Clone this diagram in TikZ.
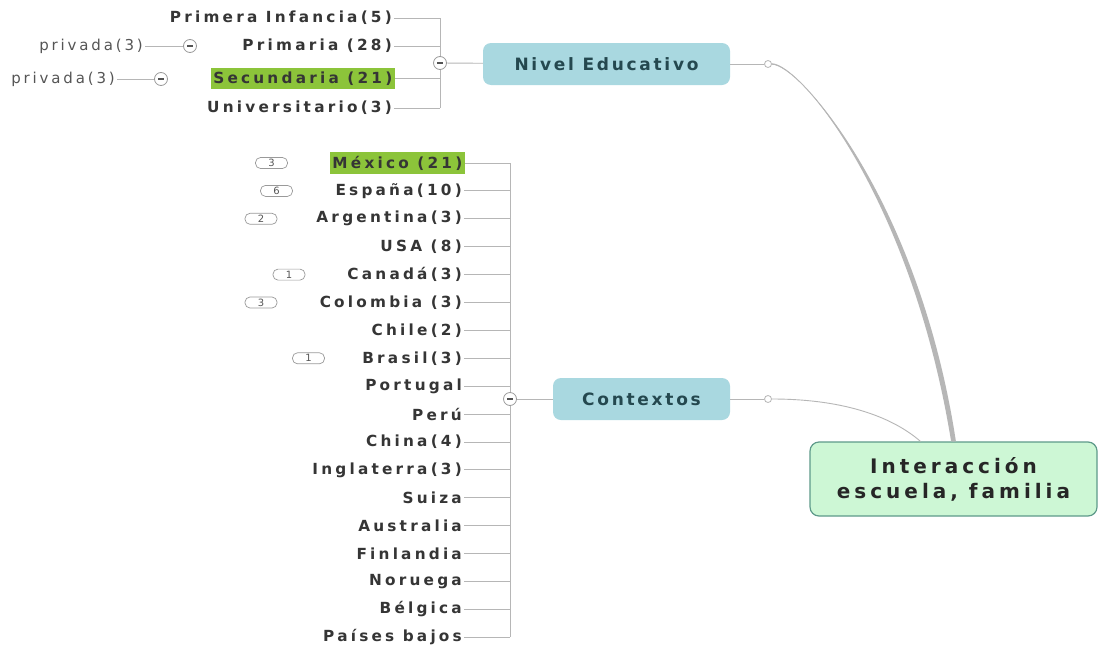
\documentclass[tikz,border=0pt]{standalone}
\usepackage{fontspec}
\setmainfont{DejaVu Sans}
\newfontfamily\lblfont[LetterSpace=21]{DejaVu Sans}
\newfontfamily\subfont[LetterSpace=19]{DejaVu Sans}
\newfontfamily\topicfont[LetterSpace=16]{DejaVu Sans}
\newfontfamily\rootfont[LetterSpace=20]{DejaVu Sans}
\usetikzlibrary{calc}

\definecolor{linegray}{HTML}{B6B6B6}
\definecolor{txt}{HTML}{353535}
\definecolor{subtxt}{HTML}{555555}
\definecolor{hlgreen}{HTML}{8CC43A}
\definecolor{topicfill}{HTML}{A9D8E0}
\definecolor{topictext}{HTML}{24484F}
\definecolor{rootfill}{HTML}{CDF7D5}
\definecolor{rootdraw}{HTML}{5E9A8A}
\definecolor{pilldraw}{HTML}{9A9A9A}

\tikzset{
  lbl/.style={anchor=east, font=\lblfont\bfseries\fontsize{15.3}{17}\selectfont,
    text=txt, inner xsep=2pt, inner ysep=4pt},
  hl/.style={fill=hlgreen, inner xsep=2.5pt},
  sublbl/.style={anchor=east, font=\subfont\fontsize{15}{17}\selectfont,
    text=subtxt, inner sep=2pt},
  conn/.style={draw=linegray, line width=0.9pt},
  fold/.style={circle, draw=pilldraw, fill=white, minimum size=13pt, inner sep=0pt,
    line width=0.8pt,
    path picture={\draw[line width=1.2pt, txt!85]
      ([xshift=-3pt]path picture bounding box.center) --
      ([xshift=3pt]path picture bounding box.center);}},
  knob/.style={circle, draw=linegray, fill=white, minimum size=7pt, inner sep=0pt,
    line width=0.8pt},
  topic/.style={rectangle, rounded corners=8pt, fill=topicfill, text=topictext,
    font=\topicfont\bfseries\fontsize{17}{19}\selectfont, minimum height=42pt},
  root/.style={rectangle, rounded corners=9pt, fill=rootfill, draw=rootdraw,
    line width=1.2pt, text=black!85, align=center,
    font=\rootfont\bfseries\fontsize{20}{25}\selectfont,
    minimum width=287pt, minimum height=74pt},
  pill/.style={rectangle, rounded corners=5pt, draw=pilldraw, fill=white,
    minimum width=32pt, minimum height=11pt, inner sep=0pt, line width=0.7pt,
    font=\fontsize{10}{10}\selectfont, text=subtxt},
}

\begin{document}
\begin{tikzpicture}[x=1pt, y=-1pt]
\useasboundingbox[fill=white] (0,0) rectangle (1099,645);

% ---- root ----
\node[root] (main) at (953.5,479) {Interacción\\escuela, familia};

% ---- Nivel Educativo branch ----
\node[topic, minimum width=247pt] (nivel) at (606.5,64) {Nivel Educativo};
\node[knob] (k1) at (768,64) {};

\node[lbl] (pinf) at (394,18) {Primera Infancia(5)};
\node[lbl] (prim) at (394,46) {Primaria (28)};
\node[lbl, hl] (secu) at (395,78.5) {Secundaria (21)};
\node[lbl] (univ) at (394,108) {Universitario(3)};

\coordinate (f1pos) at (440,63);
\foreach \n in {pinf,prim,secu,univ}
  \draw[conn] (\n.east) -- (\n.east -| f1pos);
\draw[conn] (pinf.east -| f1pos) -- (univ.east -| f1pos);
\node[fold] (f1) at (f1pos) {};
\draw[conn] (f1) -- (nivel);
\draw[conn] (nivel.east) -- (k1);

\node[sublbl] (pv1) at (145,46) {privada(3)};
\node[fold] (f2) at (190,46) {};
\node[sublbl] (pv2) at (117,79) {privada(3)};
\node[fold] (f3) at (161,79) {};
\draw[conn] (pv1) -- (f2);
\draw[conn] (pv2) -- (f3);

% ---- Contextos branch ----
\node[topic, minimum width=177pt] (ctx) at (641.5,399) {Contextos};
\node[knob] (k2) at (768,399) {};

\def\rowgap{27.9}
\node[lbl, hl] (mex) at (465,163) {México (21)};
\node[lbl] (esp) at (464,{163+1*\rowgap}) {España(10)};
\node[lbl] (arg) at (464,{163+2*\rowgap}) {Argentina(3)};
\node[lbl] (usa) at (464,{163+3*\rowgap}) {USA (8)};
\node[lbl] (can) at (464,{163+4*\rowgap}) {Canadá(3)};
\node[lbl] (col) at (464,{163+5*\rowgap}) {Colombia (3)};
\node[lbl] (chi) at (464,{163+6*\rowgap}) {Chile(2)};
\node[lbl] (bra) at (464,{163+7*\rowgap}) {Brasil(3)};
\node[lbl] (por) at (464,{163+8*\rowgap}) {Portugal};
\node[lbl] (per) at (464,{163+9*\rowgap}) {Perú};
\node[lbl] (chn) at (464,{163+10*\rowgap}) {China(4)};
\node[lbl] (ing) at (464,{163+11*\rowgap}) {Inglaterra(3)};
\node[lbl] (sui) at (464,{163+12*\rowgap}) {Suiza};
\node[lbl] (aus) at (464,{163+13*\rowgap}) {Australia};
\node[lbl] (fin) at (464,{163+14*\rowgap}) {Finlandia};
\node[lbl] (nor) at (464,{163+15*\rowgap}) {Noruega};
\node[lbl] (bel) at (464,{163+16*\rowgap}) {Bélgica};
\node[lbl] (pba) at (464,{163+17*\rowgap}) {Países bajos};

\coordinate (f4pos) at (510,399);
\foreach \n in {mex,esp,arg,usa,can,col,chi,bra,por,per,chn,ing,sui,aus,fin,nor,bel,pba}
  \draw[conn] (\n.east) -- (\n.east -| f4pos);
\draw[conn] (mex.east -| f4pos) -- (pba.east -| f4pos);
\node[fold] (f4) at (f4pos) {};
\draw[conn] (f4) -- (ctx);
\draw[conn] (ctx.east) -- (k2);

% count tags beside some countries
\node[pill] (pmex) at (271.5,163) {3};
\node[pill] (pesp) at (276.5,{163+1*\rowgap}) {6};
\node[pill] (parg) at (261,{163+2*\rowgap}) {2};
\node[pill] (pcan) at (289,{163+4*\rowgap}) {1};
\node[pill] (pcol) at (261,{163+5*\rowgap}) {3};
\node[pill] (pbra) at (308.5,{163+7*\rowgap}) {1};

% ---- curved links to the root ----
% tapered main link: thin at the knob, thick at the root
\draw[conn] (k1.east) .. controls ($(k1.east)+(28,0)$) and (915.5,200) .. (main.north);
\fill[linegray]
  ($(k1.east)+(0,-0.6)$) .. controls ($(k1.east)+(28,-0.6)$) and (912,200) ..
  ($(main.north)+(-2.4,0)$) -- ($(main.north)+(2.4,0)$)
  .. controls (919,200) and ($(k1.east)+(28,0.6)$) .. ($(k1.east)+(0,0.6)$) -- cycle;
\draw[conn] (k2.east) .. controls (840,399) and (890,415) .. ([xshift=-33pt]main.north);
\end{tikzpicture}
\end{document}
